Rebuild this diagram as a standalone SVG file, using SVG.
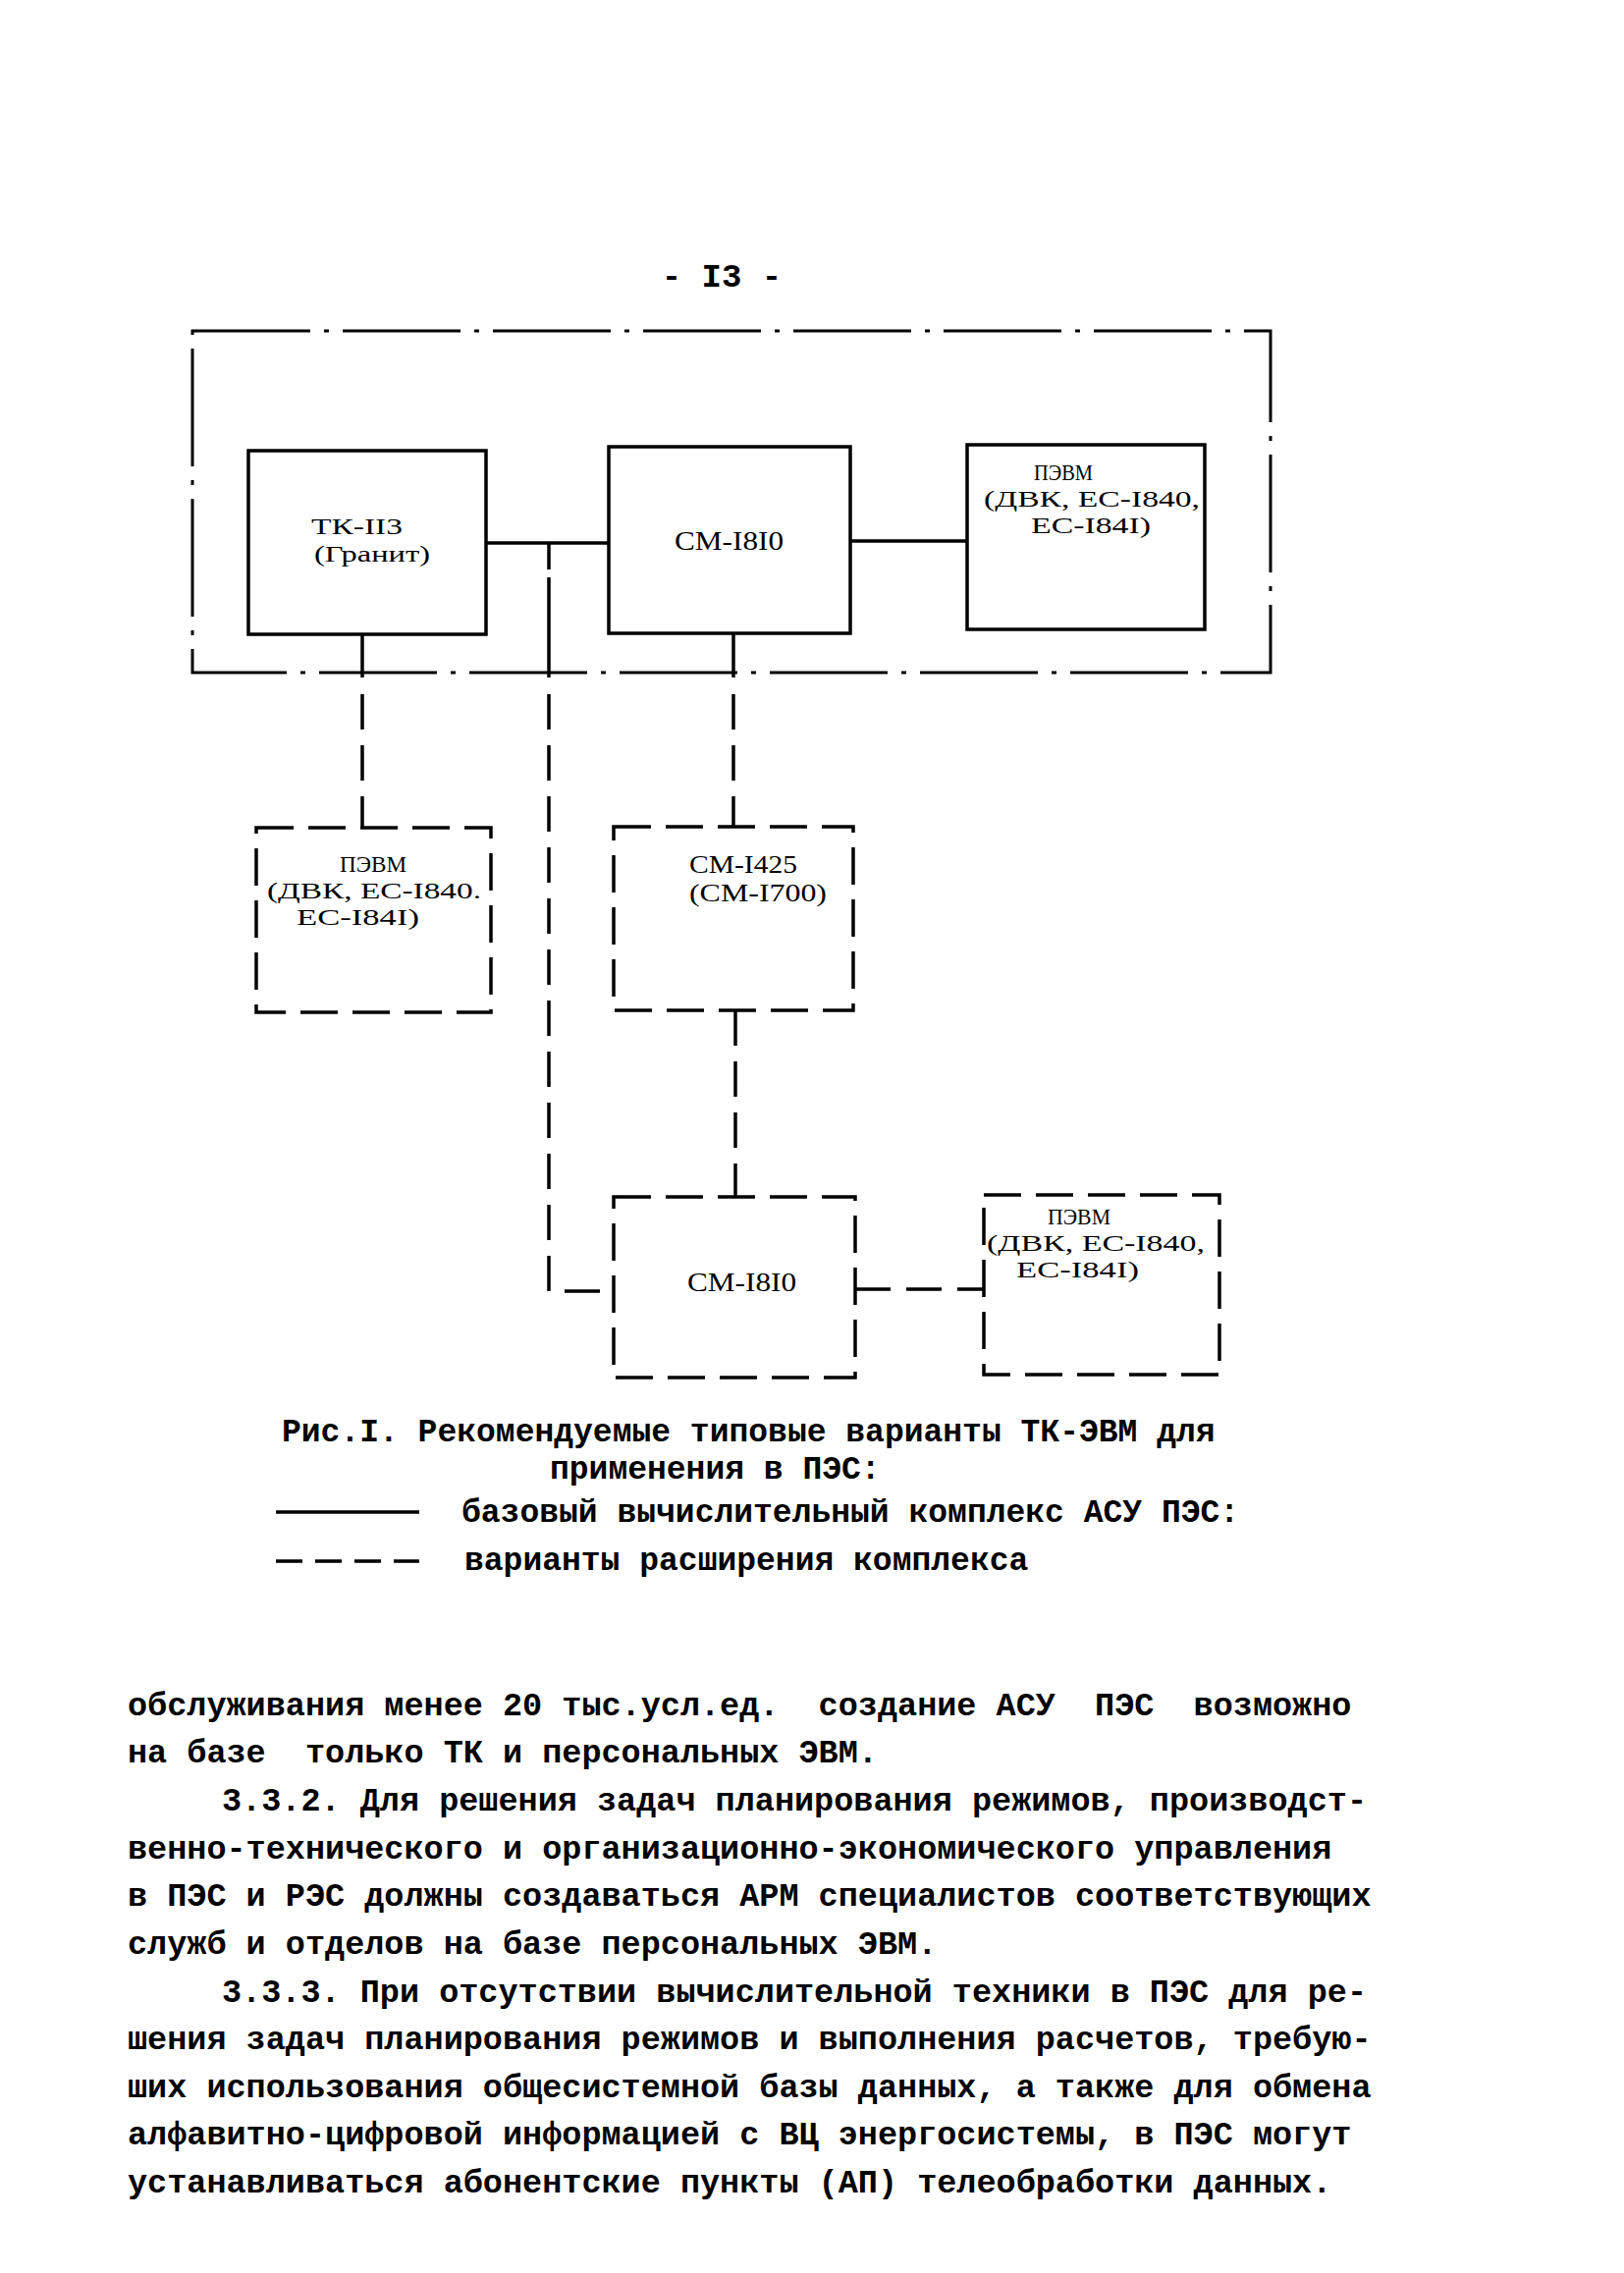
<svg xmlns="http://www.w3.org/2000/svg" width="1654" height="2315" viewBox="0 0 1654 2315">
<style>
.solid{stroke:#000;stroke-width:3.5;fill:none}
.dash{stroke:#000;stroke-width:3.5;fill:none;stroke-dasharray:36 16}
.dashdot{stroke:#000;stroke-width:3;fill:none;stroke-dasharray:120 14 5 14}
.box{stroke:#000;stroke-width:3.5;fill:none}
.dbox{stroke:#000;stroke-width:3.5;fill:none;stroke-dasharray:38 15}
.lbl{font-family:"Liberation Serif",serif;font-size:28px;fill:#000}
.lbl2{font-family:"Liberation Serif",serif;font-size:25px;fill:#000}
.lbl3{font-family:"Liberation Serif",serif;font-size:24px;fill:#000}
.body{font-family:"Liberation Mono",monospace;font-size:33.5px;font-weight:bold;fill:#000}
.cap{font-family:"Liberation Mono",monospace;font-size:33px;font-weight:bold;fill:#000}
.pg{font-family:"Liberation Mono",monospace;font-size:34px;font-weight:bold;fill:#000}
</style>
<rect width="1654" height="2315" fill="#fff"/>
<text class="pg" x="735" y="292" text-anchor="middle" xml:space="preserve">- I3 -</text>

<g id="base-complex">
<rect class="dashdot" x="196" y="337" width="1098" height="348"/>
</g>

<g id="tk113">
<rect class="box" x="253" y="459" width="242" height="187"/>
<text class="lbl3" x="317" y="544" textLength="93" lengthAdjust="spacingAndGlyphs">ТК-II3</text>
<text class="lbl3" x="320" y="572" textLength="118" lengthAdjust="spacingAndGlyphs">(Гранит)</text>
</g>

<g id="cm1810-top">
<rect class="box" x="620" y="455" width="246" height="190"/>
<text class="lbl" x="687" y="560" textLength="111" lengthAdjust="spacingAndGlyphs">СМ-I8I0</text>
</g>

<g id="pevm-top">
<rect class="box" x="985" y="453" width="242" height="188"/>
<text class="lbl3" x="1053" y="489" textLength="60" lengthAdjust="spacingAndGlyphs">ПЭВМ</text>
<text class="lbl3" x="1002" y="516" textLength="220" lengthAdjust="spacingAndGlyphs">(ДВК, ЕС-I840,</text>
<text class="lbl3" x="1050" y="543" textLength="122" lengthAdjust="spacingAndGlyphs">ЕС-I84I)</text>
</g>

<g id="pevm-left">
<rect class="dbox" x="261" y="843" width="239" height="188"/>
<text class="lbl3" x="346" y="888" textLength="68" lengthAdjust="spacingAndGlyphs">ПЭВМ</text>
<text class="lbl3" x="272" y="915" textLength="218" lengthAdjust="spacingAndGlyphs">(ДВК, ЕС-I840.</text>
<text class="lbl3" x="302" y="942" textLength="125" lengthAdjust="spacingAndGlyphs">ЕС-I84I)</text>
</g>

<g id="cm1425">
<rect class="dbox" x="625" y="842" width="244" height="187"/>
<text class="lbl2" x="702" y="889" textLength="110" lengthAdjust="spacingAndGlyphs">СМ-I425</text>
<text class="lbl2" x="702" y="918" textLength="140" lengthAdjust="spacingAndGlyphs">(СМ-I700)</text>
</g>

<g id="cm1810-bottom">
<rect class="dbox" x="625" y="1219" width="246" height="184"/>
<text class="lbl" x="700" y="1315" textLength="111" lengthAdjust="spacingAndGlyphs">СМ-I8I0</text>
</g>

<g id="pevm-bottom">
<rect class="dbox" x="1002" y="1217" width="240" height="183"/>
<text class="lbl3" x="1067" y="1247" textLength="64" lengthAdjust="spacingAndGlyphs">ПЭВМ</text>
<text class="lbl3" x="1005" y="1274" textLength="222" lengthAdjust="spacingAndGlyphs">(ДВК, ЕС-I840,</text>
<text class="lbl3" x="1035" y="1301" textLength="125" lengthAdjust="spacingAndGlyphs">ЕС-I84I)</text>
</g>

<g id="connectors">
<path class="solid" d="M495,553 H620"/>
<path class="solid" d="M866,551 H985"/>
<path class="solid" d="M369,646 V690"/>
<path class="solid" d="M747,645 V690"/>
<path class="solid" d="M559,553 V580 M559,588 V690"/>
<path class="dash" d="M369,707 V843"/>
<path class="dash" d="M559,707 V1315 H625"/>
<path class="dash" d="M747,707 V842"/>
<path class="dash" d="M749,1029 V1219"/>
<path class="dash" d="M871,1313 H1002"/>
</g>

<g id="caption">
<text class="cap" x="287" y="1468">Рис.I. Рекомендуемые типовые варианты ТК-ЭВМ для</text>
<text class="cap" x="560" y="1506">применения в ПЭС:</text>
<path class="solid" d="M281,1540 H427"/>
<text class="cap" x="470" y="1550">базовый вычислительный комплекс АСУ ПЭС:</text>
<path class="solid" d="M281,1590 H427" style="stroke-dasharray:27 13"/>
<text class="cap" x="473" y="1599">варианты расширения комплекса</text>
</g>

<g id="body-text">
<text class="body" x="130" y="1747" xml:space="preserve">обслуживания менее 20 тыс.усл.ед.  создание АСУ  ПЭС  возможно</text>
<text class="body" x="130" y="1795" xml:space="preserve">на базе  только ТК и персональных ЭВМ.</text>
<text class="body" x="226" y="1844">3.3.2. Для решения задач планирования режимов, производст-</text>
<text class="body" x="130" y="1893">венно-технического и организационно-экономического управления</text>
<text class="body" x="130" y="1941">в ПЭС и РЭС должны создаваться АРМ специалистов соответствующих</text>
<text class="body" x="130" y="1990">служб и отделов на базе персональных ЭВМ.</text>
<text class="body" x="226" y="2039">3.3.3. При отсутствии вычислительной техники в ПЭС для ре-</text>
<text class="body" x="130" y="2087">шения задач планирования режимов и выполнения расчетов, требую-</text>
<text class="body" x="130" y="2136">ших использования общесистемной базы данных, а также для обмена</text>
<text class="body" x="130" y="2184">алфавитно-цифровой информацией с ВЦ энергосистемы, в ПЭС могут</text>
<text class="body" x="130" y="2233">устанавливаться абонентские пункты (АП) телеобработки данных.</text>
</g>
</svg>
